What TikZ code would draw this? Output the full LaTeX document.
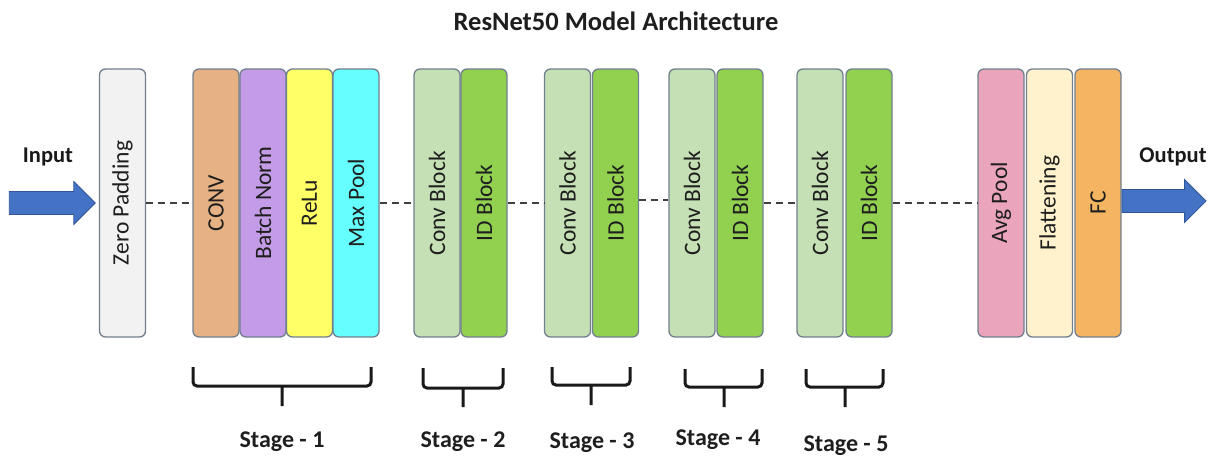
\documentclass[tikz,border=0pt]{standalone}
\usepackage{fontspec}
\setmainfont{Carlito}
\usetikzlibrary{shapes.arrows}

\definecolor{edgegray}{HTML}{717F8E}
\definecolor{zpfill}{HTML}{F2F2F2}
\definecolor{convfill}{HTML}{E6B283}
\definecolor{bnfill}{HTML}{C39BE6}
\definecolor{relufill}{HTML}{FFFF66}
\definecolor{mpfill}{HTML}{66FFFF}
\definecolor{cbfill}{HTML}{C5E0B4}
\definecolor{idfill}{HTML}{92D050}
\definecolor{avgfill}{HTML}{EAA5BC}
\definecolor{flatfill}{HTML}{FFF2CC}
\definecolor{fcfill}{HTML}{F4B462}
\definecolor{arrowblue}{HTML}{4472C4}
\definecolor{arrowedge}{HTML}{2F5597}
\definecolor{inktext}{HTML}{1E1E1E}

\begin{document}
\begin{tikzpicture}[x=1pt,y=-1pt,
  layer/.style={draw=edgegray, line width=1.3pt, rounded corners=6pt,
    minimum width=46pt, minimum height=268pt, inner sep=0pt},
  boxtext/.style={rotate=90, text=inktext, inner sep=0pt,
    font=\fontsize{23.5}{23.5}\selectfont},
  link/.style={draw=black!75, line width=1.8pt, dash pattern=on 7pt off 5pt},
  bigarrow/.style={single arrow, fill=arrowblue, draw=arrowedge, line width=0.8pt,
    minimum width=43pt, inner sep=11pt, single arrow head extend=10pt},
  brace/.style={draw=black!90, line width=3pt, rounded corners=4pt},
  heading/.style={text=inktext, font=\bfseries\fontsize{26.5}{26.5}\selectfont},
  io/.style={text=black!90, font=\bfseries\fontsize{22.5}{22.5}\selectfont},
  stage/.style={text=inktext, font=\bfseries\fontsize{24}{24}\selectfont}]

\useasboundingbox (0,0) rectangle (1218,461);

% title
\node[heading] (title) at (616,21) {ResNet50 Model Architecture};

% layer columns
\node[layer, fill=zpfill] (zp) at (122.5,203) {};
\node[boxtext] (zpt) at (zp) {Zero Padding};

\node[layer, fill=convfill] (conv) at (216,203) {};
\node[boxtext] (convt) at (conv) {CONV};
\node[layer, fill=bnfill] (bn) at (263,203) {};
\node[boxtext] (bnt) at (bn) {Batch Norm};
\node[layer, fill=relufill] (relu) at (309.5,203) {};
\node[boxtext] (relut) at (relu) {ReLu};
\node[layer, fill=mpfill] (mp) at (356,203) {};
\node[boxtext] (mpt) at (mp) {Max Pool};

\node[layer, fill=cbfill] (cb2) at (437,203) {};
\node[boxtext] (cb2t) at (cb2) {Conv Block};
\node[layer, fill=idfill] (id2) at (484,203) {};
\node[boxtext] (id2t) at (id2) {ID Block};

\node[layer, fill=cbfill] (cb3) at (567.5,203) {};
\node[boxtext] (cb3t) at (cb3) {Conv Block};
\node[layer, fill=idfill] (id3) at (615.5,203) {};
\node[boxtext] (id3t) at (id3) {ID Block};

\node[layer, fill=cbfill] (cb4) at (692,203) {};
\node[boxtext] (cb4t) at (cb4) {Conv Block};
\node[layer, fill=idfill] (id4) at (740,203) {};
\node[boxtext] (id4t) at (id4) {ID Block};

\node[layer, fill=cbfill] (cb5) at (820,203) {};
\node[boxtext] (cb5t) at (cb5) {Conv Block};
\node[layer, fill=idfill] (id5) at (869,203) {};
\node[boxtext] (id5t) at (id5) {ID Block};

\node[layer, fill=avgfill] (avg) at (1001,203) {};
\node[boxtext] (avgt) at (avg) {Avg Pool};
\node[layer, fill=flatfill] (flat) at (1049.5,203) {};
\node[boxtext] (flatt) at (flat) {Flattening};
\node[layer, fill=fcfill] (fc) at (1098,203) {};
\node[boxtext] (fct) at (fc) {FC};

% dashed links between groups
\draw[link] (zp.east) -- (conv.west);
\draw[link] (mp.east) -- (cb2.west);
\draw[link] (id2.east) -- (cb3.west);
\draw[link] ([yshift=3pt]id3.east) -- ([yshift=3pt]cb4.west);
\draw[link] (id4.east) -- (cb5.west);
\draw[link] (id5.east) -- (avg.west);

% input and output arrows
\node[bigarrow, anchor=tip, minimum height=86pt] (inarrow) at ([xshift=-3pt]zp.west) {};
\node[io] (inlabel) at (48,157) {Input};
\node[bigarrow, anchor=tail, minimum height=84pt] (outarrow) at ([yshift=2pt]fc.east) {};
\node[io] (outlabel) at (1173,157) {Output};

% stage braces
\draw[brace] (193,367) -- (193,386) -- (371,386) -- (371,367) (282,386) -- (282,406);
\draw[brace] (423,368) -- (423,388) -- (503,388) -- (503,368) (463,388) -- (463,407);
\draw[brace] (552,367) -- (552,385) -- (630,385) -- (630,367) (591,385) -- (591,405);
\draw[brace] (685,369) -- (685,387) -- (762,387) -- (762,369) (724,387) -- (724,407);
\draw[brace] (806,369) -- (806,387) -- (883,387) -- (883,369) (845,387) -- (845,407);

% stage captions
\node[stage] (s1) at (282,442) {Stage - 1};
\node[stage] (s2) at (463,442) {Stage - 2};
\node[stage] (s3) at (592,443) {Stage - 3};
\node[stage] (s4) at (718,440) {Stage - 4};
\node[stage] (s5) at (846,446) {Stage - 5};
\end{tikzpicture}
\end{document}
